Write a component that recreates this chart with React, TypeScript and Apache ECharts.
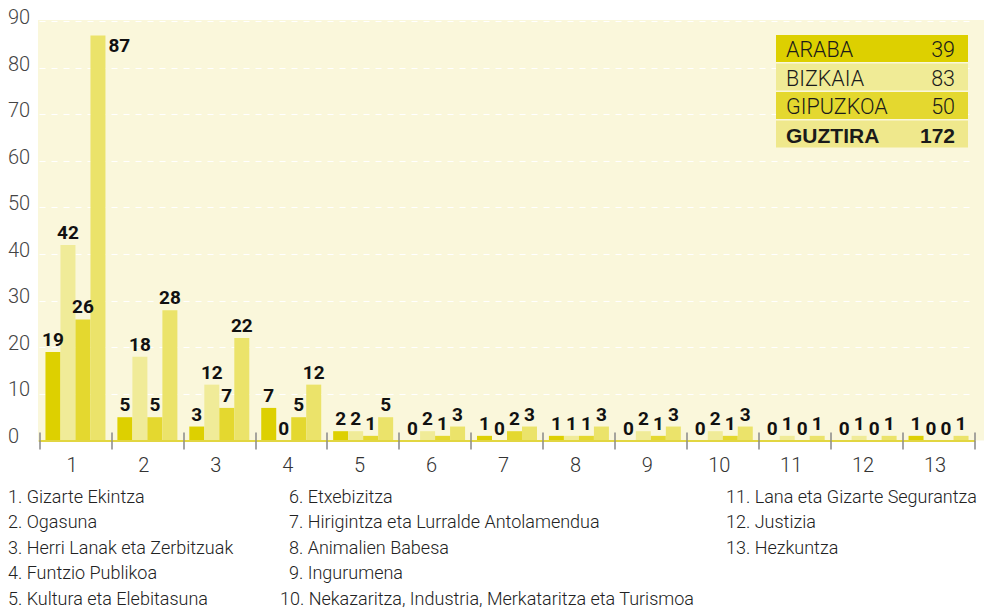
import React, { useEffect, useRef } from "react";
import * as echarts from "echarts";

const categories = ["1", "2", "3", "4", "5", "6", "7", "8", "9", "10", "11", "12", "13"];
const araba = [19, 5, 3, 7, 2, 0, 1, 1, 0, 0, 0, 0, 1];
const bizkaia = [42, 18, 12, 0, 2, 2, 0, 1, 2, 2, 1, 1, 0];
const gipuzkoa = [26, 5, 7, 5, 1, 1, 2, 1, 1, 1, 0, 0, 0];
const guztira = [87, 28, 22, 12, 5, 3, 3, 3, 3, 3, 1, 1, 1];

const regionNames = ["ARABA", "BIZKAIA", "GIPUZKOA", "GUZTIRA"];
const regionTotals = [39, 83, 50, 172];
const regionColors = ["#ddd000", "#f0eb98", "#e4d82f", "#ebe36a"];
const tableColors = ["#ddd000", "#f0eb96", "#e4d82f", "#efe88c"];

const departmentNames = [
  "1. Gizarte Ekintza",
  "2. Ogasuna",
  "3. Herri Lanak eta Zerbitzuak",
  "4. Funtzio Publikoa",
  "5. Kultura eta Elebitasuna",
  "6. Etxebizitza",
  "7. Hirigintza eta Lurralde Antolamendua",
  "8. Animalien Babesa",
  "9. Ingurumena",
  "10. Nekazaritza, Industria, Merkataritza eta Turismoa",
  "11. Lana eta Gizarte Segurantza",
  "12. Justizia",
  "13. Hezkuntza",
];

const yTicks = { min: 0, max: 90, interval: 10 };

const LABEL_FONT = "Roboto, 'Liberation Sans', sans-serif";
const LIGHT_FONT = "Roboto, 'Liberation Sans', sans-serif";

export default function App() {
  const ref = useRef<HTMLDivElement>(null);

  useEffect(() => {
    if (!ref.current) return;
    const chart = echarts.init(ref.current, undefined, { renderer: "svg" });

    const valueLabel = {
      show: true,
      position: "top",
      distance: 3,
      color: "#111",
      fontFamily: LABEL_FONT,
      fontWeight: "bold",
      fontSize: 19,
    };

    const seriesData = [araba, bizkaia, gipuzkoa, guztira];
    const series = seriesData.map((arr, si) => ({
      name: regionNames[si],
      type: "bar",
      barWidth: 15,
      barGap: "0%",
      itemStyle: { color: regionColors[si] },
      label: valueLabel,
      z: 3,
      data: arr.map((v, i) =>
        si === 3 && i === 0
          ? {
              value: v,
              label: {
                position: ["100%", 0],
                align: "left",
                verticalAlign: "top",
                offset: [3, 1],
              },
            }
          : v
      ),
    }));

    // Table legend
    const tableGraphics: any[] = [];
    const rowTops = [35, 63.5, 92, 120.5];
    const rowH = 27;
    regionNames.forEach((name, i) => {
      const bold = i === 3;
      const font = bold
        ? "bold 21px 'Liberation Sans', Roboto, sans-serif"
        : `300 21.5px ${LIGHT_FONT}`;
      tableGraphics.push({
        type: "rect",
        shape: { x: 776, y: rowTops[i], width: 192, height: rowH },
        style: { fill: tableColors[i] },
        z: 5,
      });
      tableGraphics.push({
        type: "text",
        x: 786,
        y: rowTops[i] + rowH / 2 + 1,
        style: { text: name, fill: "#1a1a1a", font, align: "left", verticalAlign: "middle" },
        z: 6,
      });
      tableGraphics.push({
        type: "text",
        x: 955,
        y: rowTops[i] + rowH / 2 + 1,
        style: {
          text: String(regionTotals[i]),
          fill: "#1a1a1a",
          font,
          align: "right",
          verticalAlign: "middle",
        },
        z: 6,
      });
    });

    // Department list
    const listGraphics: any[] = [];
    const rowY = [496, 521.5, 547, 572.5, 598];
    departmentNames.forEach((txt, i) => {
      let x: number;
      let row: number;
      if (i < 5) {
        x = 8;
        row = i;
      } else if (i < 10) {
        x = i === 9 ? 280 : 289;
        row = i - 5;
      } else {
        x = 726;
        row = i - 10;
      }
      listGraphics.push({
        type: "text",
        x,
        y: rowY[row],
        style: {
          text: txt,
          fill: "#222",
          font: `300 18px ${LIGHT_FONT}`,
          align: "left",
          verticalAlign: "middle",
        },
      });
    });

    chart.setOption({
      animation: false,
      backgroundColor: "#ffffff",
      grid: { left: 39.5, right: 9.5, top: 21.5, bottom: 167.5, containLabel: false },
      xAxis: [
        {
          type: "category",
          data: categories,
          position: "bottom",
          axisLine: { show: true, lineStyle: { color: "#e2d641", width: 2 } },
          axisTick: { show: true, alignWithLabel: false, length: 9, lineStyle: { color: "#888", width: 1.5 } },
          axisLabel: {
            color: "#333",
            fontFamily: LIGHT_FONT,
            fontWeight: 300,
            fontSize: 20,
            margin: 14,
            padding: [0, 7, 0, 0],
          },
          splitLine: { show: false },
          z: 4,
        },
        {
          type: "category",
          data: categories,
          position: "bottom",
          axisLine: { show: false },
          axisTick: { show: true, inside: true, alignWithLabel: false, length: 8, lineStyle: { color: "#888", width: 1.5 } },
          axisLabel: { show: false },
          splitLine: { show: false },
          z: 4,
        },
      ],
      yAxis: {
        type: "value",
        min: yTicks.min,
        max: yTicks.max,
        interval: yTicks.interval,
        axisLine: { show: false },
        axisTick: { show: false },
        axisLabel: {
          color: "#444",
          fontFamily: LIGHT_FONT,
          fontWeight: 300,
          fontSize: 20,
          align: "left",
          margin: 31.5,
          verticalAlign: "bottom",
          lineHeight: 9,
        },
        splitLine: { show: true, lineStyle: { color: "#ffffff", type: [6, 6], width: 1 } },
      },
      graphic: [
        {
          type: "rect",
          shape: { x: 38, y: 20, width: 946, height: 420.5 },
          style: { fill: "#faf7db" },
          z: -10,
          silent: true,
        },
        ...tableGraphics,
        ...listGraphics,
      ],
      series,
    });

    return () => chart.dispose();
  }, []);

  return (
    <div
      ref={ref}
      style={{ position: "fixed", left: 0, top: 0, width: 984, height: 608 }}
    />
  );
}
